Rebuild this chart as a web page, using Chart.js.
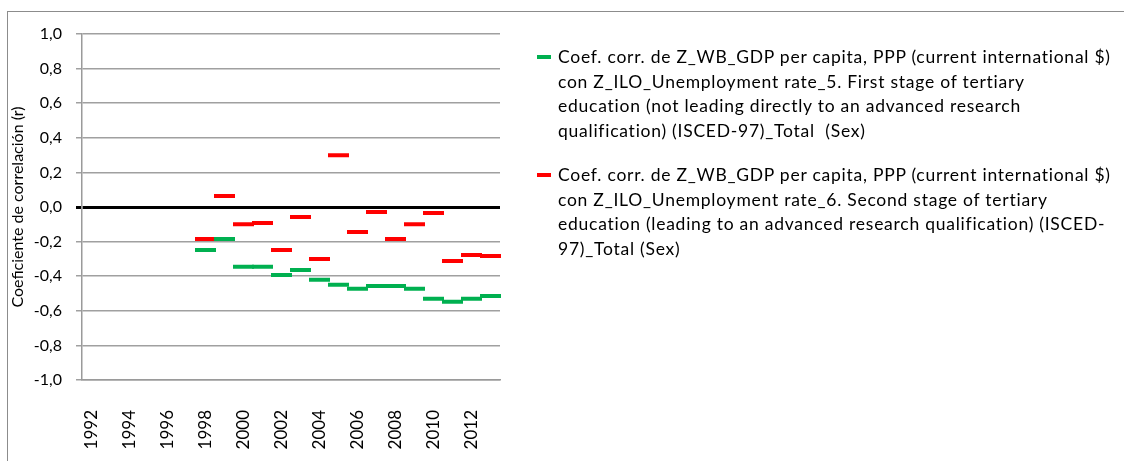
<!DOCTYPE html>
<html>
<head>
<meta charset="utf-8">
<script src="https://cdn.jsdelivr.net/npm/chart.js@4/dist/chart.umd.min.js"></script>
<style>
  body { margin: 0; background: #fff; }
  #wrap { position: relative; width: 1124px; height: 461px; overflow: hidden; }
  #frame { position: absolute; left: 7px; top: 11px; width: 1200px; height: 500px;
           border-left: 1px solid #8c8c8c; border-top: 1px solid #8c8c8c; }
  canvas { position: absolute; left: 0; top: 0; }
  #legend { position: absolute; left: 537px; top: 45px; font-family: Lato, sans-serif;
            font-size: 17.5px; letter-spacing: 0.75px; line-height: 24.5px; color: #000; }
  .item { position: relative; padding-left: 21px; white-space: nowrap; margin-bottom: 20px; }
  .item i { position: absolute; left: 0; top: 10px; width: 14px; height: 4px; }
</style>
</head>
<body>
<div id="wrap">
  <div id="frame"></div>
  <canvas id="chart" width="1124" height="461"></canvas>
  <div id="legend">
    <div class="item"><i style="background:#00b050"></i>Coef. corr. de Z_WB_GDP per capita, PPP (current international $)<br>con Z_ILO_Unemployment rate_5. First stage of tertiary<br>education (not leading directly to an advanced research<br>qualification) (ISCED-97)_Total&nbsp; (Sex)</div>
    <div class="item"><i style="background:#ff0000"></i>Coef. corr. de Z_WB_GDP per capita, PPP (current international $)<br>con Z_ILO_Unemployment rate_6. Second stage of tertiary<br>education (leading to an advanced research qualification) (ISCED-<br>97)_Total (Sex)</div>
  </div>
</div>
<script>
// Data
const years = ['1992', '1993', '1994', '1995', '1996', '1997', '1998', '1999', '2000', '2001', '2002',
               '2003', '2004', '2005', '2006', '2007', '2008', '2009', '2010', '2011', '2012', '2013'];

// rate_5, first stage of tertiary (green)
const firstStage = [null, null, null, null, null, null,
  -0.248, -0.185, -0.346, -0.346, -0.393, -0.364, -0.421, -0.450,
  -0.473, -0.456, -0.456, -0.473, -0.531, -0.548, -0.531, -0.514];

// rate_6, second stage of tertiary (red)
const secondStage = [null, null, null, null, null, null,
  -0.185, 0.063, -0.099, -0.093, -0.248, -0.058, -0.300, 0.299,
  -0.145, -0.029, -0.185, -0.099, -0.035, -0.312, -0.277, -0.283];

const yMin = -1, yMax = 1, yStep = 0.2;
const yTitle = 'Coeficiente de correlación (r)';

const tickFont = { family: 'Lato', size: 16 };

function dashSeries(label, data, color) {
  return {
    label: label,
    data: data,
    showLine: false,
    borderColor: color,
    backgroundColor: color,
    pointStyle: 'line',
    pointRadius: 10.5,
    pointHoverRadius: 10.5,
    pointBorderWidth: 4,
    pointHoverBorderWidth: 4
  };
}

new Chart(document.getElementById('chart'), {
  type: 'line',
  data: {
    labels: years,
    datasets: [
      dashSeries('rate_5', firstStage, '#00b050'),
      dashSeries('rate_6', secondStage, '#ff0000')
    ]
  },
  options: {
    responsive: false,
    animation: false,
    events: [],
    layout: { padding: { left: 0, top: 34, right: 624, bottom: 0 } },
    plugins: { legend: { display: false }, tooltip: { enabled: false } },
    scales: {
      x: {
        offset: true,
        grid: { display: false },
        border: { display: true, color: '#9a9a9a', width: 1.5 },
        ticks: {
          autoSkip: false, minRotation: 90, maxRotation: 90, padding: 22,
          color: '#000', font: { family: 'Lato', size: 17 },
          callback: (v, i) => (i % 2 === 0 ? years[i] : '')
        },
        afterFit: s => { s.height = 81; }
      },
      y: {
        min: yMin, max: yMax,
        border: { display: true, color: '#9a9a9a', width: 1.5 },
        grid: {
          tickLength: 6,
          color: c => (Math.abs(c.tick.value) < 1e-9 ? '#000' : '#a0a0a0'),
          lineWidth: c => (Math.abs(c.tick.value) < 1e-9 ? 3 : 1.5)
        },
        ticks: {
          stepSize: yStep, padding: 14, color: '#000', font: tickFont,
          callback: v => v.toFixed(1).replace('.', ',')
        },
        title: {
          display: true, text: yTitle, color: '#000',
          font: { family: 'Lato', size: 16 }, padding: { top: 8, bottom: 0 }
        },
        afterFit: s => { s.width = 82; }
      }
    }
  }
});
</script>
</body>
</html>
